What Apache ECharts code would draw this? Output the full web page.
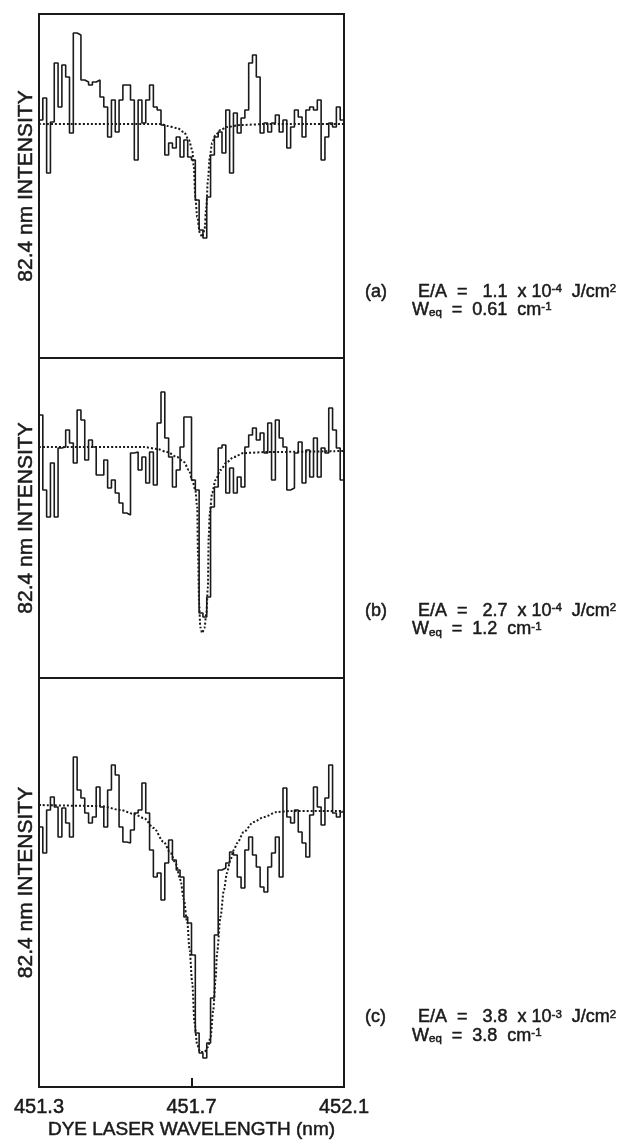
<!DOCTYPE html>
<html><head><meta charset="utf-8">
<script src="https://cdn.jsdelivr.net/npm/echarts@6/dist/echarts.min.js"></script>
<style>html,body{margin:0;padding:0;background:#fff}#c{width:631px;height:1142px}</style>
</head><body><div id="c"></div>
<script>
// ---- data ----
const wavelength = [451.30,451.31,451.32,451.33,451.34,451.35,451.36,451.37,451.38,451.39,
451.40,451.41,451.42,451.43,451.44,451.45,451.46,451.47,451.48,451.49,
451.50,451.51,451.52,451.53,451.54,451.55,451.56,451.57,451.58,451.59,
451.60,451.61,451.62,451.63,451.64,451.65,451.66,451.67,451.68,451.69,
451.70,451.71,451.72,451.73,451.74,451.75,451.76,451.77,451.78,451.79,
451.80,451.81,451.82,451.83,451.84,451.85,451.86,451.87,451.88,451.89,
451.90,451.91,451.92,451.93,451.94,451.95,451.96,451.97,451.98,451.99,
452.00,452.01,452.02,452.03,452.04,452.05,452.06,452.07,452.08,452.09,452.10];
const xTicks = [451.3, 451.7, 452.1];

// panel (a)
const traceA = [238,260,185,236,295,251,293,281,225,325, 323,278,276,273,276,278,261,251,221,258,
226,258,273,273,258,198,258,235,258,273, 251,248,233,203,215,210,221,201,218,201,
198,158,128,120,161,203,221,226,205,248, 185,245,225,240,248,295,303,281,225,235,
226,235,243,226,238,210,231,248,241,221, 248,251,248,258,198,221,235,231,251,238];
const fitAx = [451.30,451.62,451.636,451.662,451.68,451.693,451.702,451.706,451.71,451.715,451.722,451.728,451.734,451.739,451.743,451.748,451.754,451.763,451.776,451.793,451.828,451.898,452.10];
const fitAy = [234,234,232,230,226,218,208,191,161,141,125,121,128,151,178,201,215,223,228,231,233,234,234];

// panel (b)
const traceB = [263,188,161,215,161,230,231,248,235,215, 268,258,218,238,231,203,203,218,190,198,
185,175,165,163,225,226,208,221,195,226, 193,255,286,240,221,191,208,231,261,261,
198,188,65,61,81,171,191,230,233,185, 210,185,201,191,231,243,250,238,245,225,
255,198,258,240,231,188,190,225,236,195, 228,201,240,201,230,225,270,248,230,198];
const fitBx = [451.30,451.549,451.575,451.61,451.636,451.662,451.68,451.693,451.702,451.71,451.715,451.717,451.72,451.723,451.728,451.734,451.739,451.743,451.745,451.748,451.754,451.763,451.776,451.793,451.811,451.837,451.898,452.10];
const fitBy = [231,231,231,229,226,221,216,208,198,188,171,125,75,51,45,50,65,91,141,165,185,198,208,216,221,225,226,227];

// panel (c)
const traceC = [260,234,277,290,280,250,279,264,250,330, 297,289,274,264,270,300,280,260,297,322,
312,260,245,244,257,274,277,304,274,237, 210,214,187,224,247,227,217,210,170,164,
132,54,34,29,44,89,152,217,219,224, 235,232,210,199,237,250,232,220,200,195,
220,234,250,210,299,270,264,277,255,244, 230,272,300,280,262,289,322,274,270,275];
const fitCx = [451.30,451.461,451.514,451.549,451.575,451.601,451.627,451.645,451.658,451.671,451.68,451.689,451.695,451.702,451.708,451.715,451.723,451.734,451.743,451.75,451.757,451.763,451.767,451.776,451.785,451.793,451.802,451.811,451.82,451.837,451.863,451.89,451.924,451.959,452.10];
const fitCy = [282,281,277,273,269,259,245,234,224,207,187,164,137,104,64,42,35,35,40,50,77,107,134,170,197,214,227,237,244,255,265,270,275,276,276];

const yMax = [344, 320, 409];
const panelTags = ['(a)', '(b)', '(c)'];
const energyMantissa = ['1.1', '2.7', '3.8'];
const energyExponent = ['-4', '-4', '-3'];
const widthEq = ['0.61', '1.2', '3.8'];
const yTitle = '82.4 nm INTENSITY';
const xTitle = 'DYE LASER WAVELENGTH (nm)';

// ---- chart ----
const FONT = '"Liberation Sans", Arial, Helvetica, sans-serif';
const INK = '#1a1a1a';
const HEAVY = {textBorderColor: INK, textBorderWidth: 0.5};
const traces = [traceA, traceB, traceC];
const fitsX = [fitAx, fitBx, fitCx];
const fitsY = [fitAy, fitBy, fitCy];
const gridBoxes = [{top: 14, height: 344}, {top: 358, height: 320}, {top: 678, height: 409}];

const chart = echarts.init(document.getElementById('c'), null, {renderer: 'canvas'});

const series = [];
traces.forEach((t, i) => {
  series.push({
    type: 'line', xAxisIndex: i, yAxisIndex: i, step: 'end', showSymbol: false,
    data: wavelength.map((x, k) => [x, t[Math.min(k, t.length - 1)]]),
    lineStyle: {color: INK, width: 1.6}, z: 2
  });
  series.push({
    type: 'line', xAxisIndex: i, yAxisIndex: i, showSymbol: false, smooth: 0.3, smoothMonotone: 'x',
    data: fitsX[i].map((x, k) => [x, fitsY[i][k]]),
    lineStyle: {color: INK, width: 2, type: [2, 2]}, z: 3
  });
});

const TXT = {fontFamily: FONT, fill: INK, stroke: INK, lineWidth: 0.5};
const rich = {
  m: Object.assign({fontSize: 18, lineHeight: 18}, TXT),
  s: Object.assign({fontSize: 11.5, lineHeight: 14, verticalAlign: 'top'}, TXT),
  b: Object.assign({fontSize: 11.5, lineHeight: 12, verticalAlign: 'bottom'}, TXT)
};
const line1Y = [283, 602, 1008.5];
const line2Y = [301, 620.5, 1027];
const graphics = [];
panelTags.forEach((tag, i) => {
  graphics.push({type: 'text', style: {x: 365, y: line1Y[i], text: '{m|' + tag + '}', rich, verticalAlign: 'top'}});
  graphics.push({type: 'text', style: {x: 418, y: line1Y[i],
    text: '{m|E/A  =   ' + energyMantissa[i] + '  x 10}{s|' + energyExponent[i] + '}{m|  J/cm}{s|2}', rich, verticalAlign: 'top'}});
  graphics.push({type: 'text', style: {x: 412, y: line2Y[i],
    text: '{m|W}{b|eq}{m|  =  ' + widthEq[i] + '  cm}{s|-1}', rich, verticalAlign: 'top'}});
});

chart.setOption({
  animation: false,
  backgroundColor: '#fff',
  grid: gridBoxes.map(g => ({left: 39, width: 305, top: g.top, height: g.height, show: true,
    borderColor: INK, borderWidth: 2, backgroundColor: 'transparent'})),
  xAxis: [0, 1, 2].map(i => ({
    type: 'value', gridIndex: i, min: 451.3, max: 452.1,
    show: i === 2,
    axisLine: {show: false},
    splitLine: {show: false},
    axisTick: {show: true, inside: true, length: 9, lineStyle: {color: INK, width: 2}, customValues: xTicks},
    axisLabel: Object.assign({show: true, customValues: xTicks, formatter: v => Number(v).toFixed(1),
      fontSize: 20, fontFamily: FONT, color: INK, margin: 10}, HEAVY),
    name: i === 2 ? xTitle : '', nameLocation: 'middle', nameGap: 33,
    nameTextStyle: Object.assign({fontSize: 19, fontFamily: FONT, color: INK}, HEAVY)
  })),
  yAxis: [0, 1, 2].map(i => ({
    type: 'value', gridIndex: i, min: 0, max: yMax[i],
    axisLine: {show: false}, axisTick: {show: false}, axisLabel: {show: false}, splitLine: {show: false},
    name: yTitle, nameLocation: 'middle', nameGap: 2,
    nameTextStyle: Object.assign({fontSize: 21, fontFamily: FONT, color: INK}, HEAVY)
  })),
  series,
  graphic: graphics
});
</script></body></html>
